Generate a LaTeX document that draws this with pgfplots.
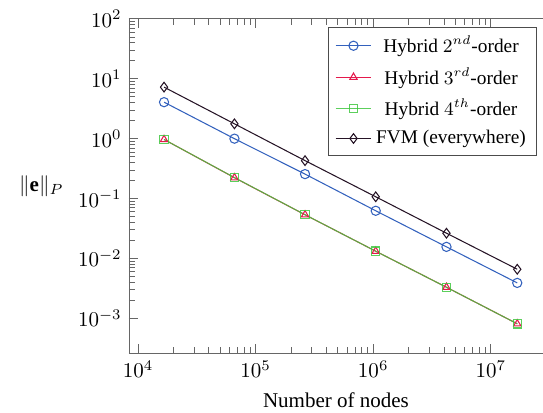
\documentclass[border=0pt]{standalone}
\usepackage{pgfplots}
\pgfplotsset{compat=1.18}
\usepackage{fontspec}
\setmainfont{Liberation Serif}
\definecolor{cblue}{rgb}{0.20,0.38,0.74}
\definecolor{cred}{rgb}{0.90,0.10,0.30}
\definecolor{cgreen}{rgb}{0.25,0.78,0.25}
\definecolor{cdark}{rgb}{0.15,0.08,0.15}
\begin{document}
\begin{tikzpicture}
\begin{axis}[
  scale only axis,
  width=197.1pt, height=159.2pt,
  xmode=log, ymode=log,
  xmin=8375, xmax=2.78e7,
  ymin=2.6e-4, ymax=100,
  axis x line*=box,
  axis y line*=left,
  y axis line style={-},
  x axis line style={-},
  axis line style={draw=black!60},
  every tick/.style={black!60},
  tick align=inside,
  xtick={1e4,1e5,1e6,1e7},
  ytick={1e-3,1e-2,1e-1,1,1e1,1e2},
  xlabel={Number of nodes},
  ylabel={$\|\mathbf{e}\|_P$},
  ylabel style={rotate=-90},
  legend cell align=center,
  legend style={at={(0.985,0.976)}, anchor=north east, draw=black!70, row sep=1.5pt,
    font=\fontsize{9.2}{11}\selectfont, inner xsep=3pt},
]
\addplot[cblue, mark=o, mark size=2.2pt, line width=0.5pt] coordinates {
 (16641,4.07) (66049,1.0) (263169,0.256) (1050625,0.0625) (4198401,0.0156) (16785409,0.0039)};
\addlegendentry{Hybrid $2^{nd}$-order}
\addplot[cred, mark=triangle, mark size=2pt, line width=0.5pt] coordinates {
 (16641,0.97) (66049,0.223) (263169,0.0536) (1050625,0.0132) (4198401,0.0033) (16785409,0.00081)};
\addlegendentry{Hybrid $3^{rd}$-order}
\addplot[cgreen, mark=square, mark size=2pt, line width=0.5pt, opacity=0.85] coordinates {
 (16641,0.97) (66049,0.224) (263169,0.0537) (1050625,0.0132) (4198401,0.0033) (16785409,0.00081)};
\addlegendentry{Hybrid $4^{th}$-order}
\addplot[cdark, mark=diamond, mark size=2.3pt, line width=0.5pt] coordinates {
 (16641,7.26) (66049,1.77) (263169,0.43) (1050625,0.107) (4198401,0.0264) (16785409,0.0066)};
\addlegendentry{FVM (everywhere)}
\end{axis}
\pgfresetboundingbox
\path[use as bounding box] (current axis.south west) ++(-61.4pt,-28pt) rectangle ([yshift=9pt]current axis.north east);
\end{tikzpicture}
\end{document}
